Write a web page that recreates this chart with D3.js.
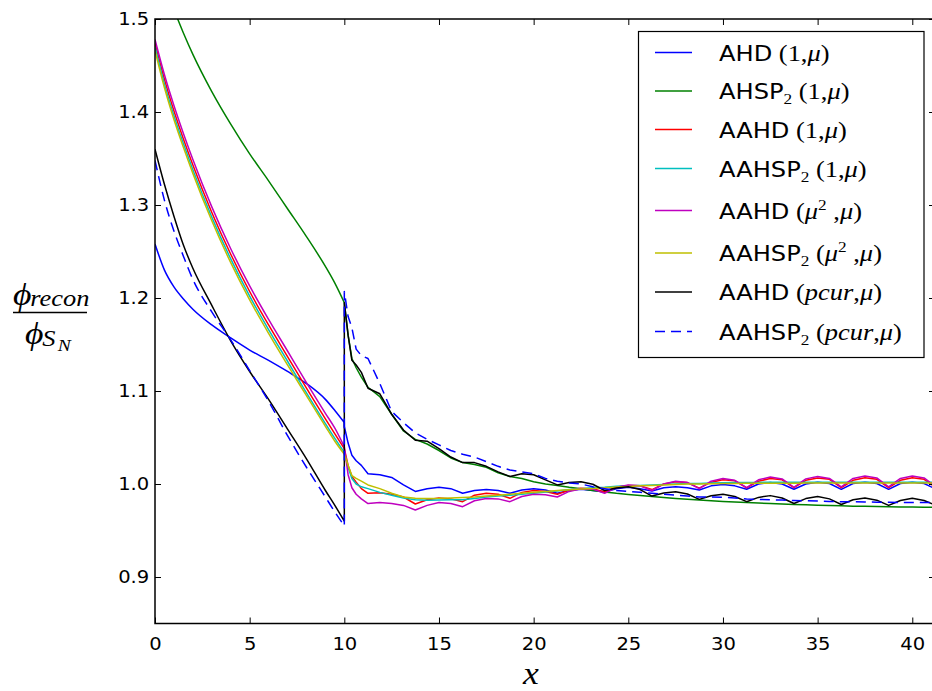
<!DOCTYPE html>
<html>
<head>
<meta charset="utf-8">
<script src="https://cdn.jsdelivr.net/npm/d3@7/dist/d3.min.js"></script>
<style>
  body { margin: 0; background: #fff; }
  svg { display: block; }
</style>
</head>
<body>
<svg width="932" height="691"></svg>
<script>
// x grids: before the interface at x = 10, and after it
const xPre = [0, 0.5, 1, 1.5, 2, 3, 4, 5, 6, 7, 8, 9, 9.5, 10];
const xPost = [10, 10.2, 10.4, 10.625, 10.9, 11.25, 11.875, 12.5, 13.125, 13.75, 14.375, 15,
  15.625, 16.25, 16.875, 17.5, 18.125, 18.75, 19.375, 20, 20.625, 21.25, 21.875, 22.5,
  23.125, 23.75, 24.375, 25, 25.625, 26.25, 26.875, 27.5, 28.125, 28.75, 29.375, 30,
  30.625, 31.25, 31.875, 32.5, 33.125, 33.75, 34.375, 35, 35.625, 36.25, 36.875, 37.5,
  38.125, 38.75, 39.375, 40, 40.625, 41.25];

const xTicks = [0, 5, 10, 15, 20, 25, 30, 35, 40];
const yTicks = [0.9, 1.0, 1.1, 1.2, 1.3, 1.4, 1.5];

// AHD (1,mu)
const ahdPre = [1.258, 1.230, 1.212, 1.199, 1.188, 1.171, 1.157, 1.144, 1.133, 1.121, 1.108, 1.091, 1.079, 1.066];
const ahdPost = [1.062, 1.044, 1.031, 1.025, 1.020, 1.011, 1.010, 1.007, 0.999, 0.992, 0.995, 0.9965,
  0.995, 0.990, 0.993, 0.994, 0.993, 0.990, 0.9935, 0.995, 0.9935, 0.990, 0.993, 0.9943,
  0.993, 0.9917, 0.995, 0.9964, 0.995, 0.9925, 0.996, 0.997, 0.996, 0.9935, 0.998, 0.9995,
  0.998, 0.9943, 1.000, 1.0015, 1.000, 0.9943, 1.000, 1.002, 1.0005, 0.9943, 1.0005, 1.002,
  1.0005, 0.9943, 1.0005, 1.002, 1.0005, 0.9945];

// AHSP2 (1,mu)
const ahspPre = [1.560, 1.535, 1.510, 1.485, 1.462, 1.422, 1.387, 1.355, 1.326, 1.296, 1.266, 1.234, 1.216, 1.195];
const ahspPost = [1.195, 1.160, 1.135, 1.125, 1.115, 1.104, 1.094, 1.075, 1.057, 1.048, 1.043, 1.036,
  1.028, 1.023, 1.021, 1.018, 1.012, 1.008, 1.006, 1.0025, 1.000, 0.9985, 0.9965, 0.9948,
  0.993, 0.9915, 0.990, 0.9888, 0.9876, 0.9865, 0.9855, 0.9845, 0.9836, 0.9828, 0.982, 0.9813,
  0.9806, 0.980, 0.9795, 0.979, 0.9785, 0.978, 0.9776, 0.9772, 0.9768, 0.9765, 0.9762, 0.976,
  0.9758, 0.9756, 0.9754, 0.9752, 0.975, 0.975];

// AAHD (1,mu)
const aahdPre = [1.474, 1.435, 1.401, 1.371, 1.343, 1.292, 1.247, 1.207, 1.171, 1.137, 1.103, 1.070, 1.054, 1.038];
const aahdPost = [1.038, 1.020, 1.008, 1.002, 0.995, 0.990, 0.9905, 0.989, 0.986, 0.9785, 0.983, 0.985,
  0.984, 0.981, 0.988, 0.990, 0.989, 0.9846, 0.991, 0.993, 0.992, 0.989, 0.9935, 0.9955,
  0.995, 0.9915, 0.9965, 0.9985, 0.998, 0.994, 1.000, 1.0025, 1.0015, 0.9955, 1.002, 1.0045,
  1.0035, 0.9958, 1.003, 1.006, 1.0045, 0.996, 1.004, 1.0065, 1.005, 0.996, 1.004, 1.0068,
  1.005, 0.996, 1.004, 1.0068, 1.005, 0.996];

// AAHSP2 (1,mu)
const aahspPre = [1.470, 1.430, 1.396, 1.366, 1.338, 1.287, 1.242, 1.202, 1.166, 1.132, 1.098, 1.065, 1.049, 1.034];
const aahspPost = [1.034, 1.018, 1.006, 1.000, 0.997, 0.995, 0.991, 0.988, 0.985, 0.983, 0.9825, 0.9828,
  0.983, 0.983, 0.9845, 0.986, 0.987, 0.988, 0.989, 0.990, 0.9915, 0.9925, 0.994, 0.995,
  0.996, 0.9965, 0.9975, 0.998, 0.9985, 0.999, 0.9995, 1.000, 1.0005, 1.0005, 1.001, 1.0013,
  1.0015, 1.0015, 1.0017, 1.002, 1.002, 1.002, 1.002, 1.002, 1.002, 1.002, 1.002, 1.002,
  1.002, 1.002, 1.002, 1.002, 1.002, 1.002];

// AAHD (mu^2,mu)
const aahdMu2Pre = [1.478, 1.440, 1.407, 1.377, 1.349, 1.298, 1.253, 1.213, 1.177, 1.143, 1.109, 1.076, 1.060, 1.040];
const aahdMu2Post = [1.040, 1.010, 0.996, 0.989, 0.984, 0.979, 0.980, 0.979, 0.977, 0.972, 0.977, 0.980,
  0.979, 0.9756, 0.982, 0.9845, 0.984, 0.981, 0.9865, 0.989, 0.9885, 0.986, 0.992, 0.995,
  0.9945, 0.990, 0.9965, 0.999, 0.998, 0.993, 1.000, 1.003, 1.0015, 0.995, 1.003, 1.006,
  1.004, 0.996, 1.0045, 1.0075, 1.0055, 0.9965, 1.0055, 1.008, 1.006, 0.997, 1.006, 1.0085,
  1.0065, 0.997, 1.006, 1.0085, 1.0065, 0.997];

// AAHSP2 (mu^2,mu)
const aahspMu2Pre = [1.466, 1.426, 1.392, 1.362, 1.334, 1.283, 1.238, 1.198, 1.162, 1.128, 1.095, 1.062, 1.046, 1.032];
const aahspMu2Post = [1.032, 1.020, 1.009, 1.006, 1.003, 0.999, 0.995, 0.990, 0.986, 0.9848, 0.9845, 0.9846,
  0.985, 0.9855, 0.986, 0.987, 0.988, 0.989, 0.990, 0.991, 0.992, 0.993, 0.9937, 0.9945,
  0.9952, 0.996, 0.9967, 0.9973, 0.998, 0.9985, 0.999, 0.9995, 1.000, 1.000, 1.0003, 1.0005,
  1.0006, 1.0007, 1.0008, 1.0008, 1.0009, 1.0009, 1.001, 1.001, 1.001, 1.001, 1.001, 1.001,
  1.001, 1.001, 1.001, 1.001, 1.001, 1.001];

// AAHD (pcur,mu)
const aahdPcurPre = [1.360, 1.322, 1.288, 1.257, 1.232, 1.192, 1.154, 1.121, 1.091, 1.059, 1.027, 0.993, 0.977, 0.960];
const aahdPcurPost = [1.195, 1.160, 1.133, 1.128, 1.120, 1.103, 1.097, 1.075, 1.058, 1.047, 1.046, 1.038,
  1.029, 1.023, 1.023, 1.019, 1.013, 1.008, 1.011, 1.010, 1.0045, 0.999, 1.0015, 1.0025,
  0.9997, 0.993, 0.9958, 0.997, 0.994, 0.987, 0.9903, 0.9917, 0.9892, 0.9835, 0.9874, 0.989,
  0.9866, 0.981, 0.9856, 0.9875, 0.985, 0.979, 0.9843, 0.9865, 0.984, 0.978, 0.983, 0.985,
  0.9826, 0.977, 0.9823, 0.9846, 0.9823, 0.977];

// AAHSP2 (pcur,mu)
const aahspPcurPre = [1.348, 1.305, 1.272, 1.245, 1.220, 1.185, 1.155, 1.122, 1.089, 1.052, 1.018, 0.986, 0.970, 0.955];
const aahspPcurPost = [1.207, 1.180, 1.168, 1.145, 1.138, 1.135, 1.108, 1.078, 1.066, 1.055, 1.048, 1.042,
  1.036, 1.032, 1.029, 1.024, 1.019, 1.015, 1.013, 1.011, 1.006, 1.003, 1.001, 1.000,
  0.997, 0.995, 0.993, 0.992, 0.991, 0.990, 0.989, 0.988, 0.987, 0.986, 0.986, 0.9857,
  0.985, 0.984, 0.9835, 0.983, 0.9827, 0.9823, 0.982, 0.9817, 0.9813, 0.981, 0.981, 0.9807,
  0.9805, 0.9803, 0.980, 0.980, 0.980, 0.980];

// legend labels: [text, style] pieces; s = sans, m = math upright, i = math italic, sub/sup
const legendLabels = [
  [['AHD', 's'], [' (1,', 'm'], ['μ', 'i'], [')', 'm']],
  [['AHSP', 's'], ['2', 'sub'], [' (1,', 'm'], ['μ', 'i'], [')', 'm']],
  [['AAHD', 's'], [' (1,', 'm'], ['μ', 'i'], [')', 'm']],
  [['AAHSP', 's'], ['2', 'sub'], [' (1,', 'm'], ['μ', 'i'], [')', 'm']],
  [['AAHD', 's'], [' (', 'm'], ['μ', 'i'], ['2', 'sup'], [' ,', 'm'], ['μ', 'i'], [')', 'm']],
  [['AAHSP', 's'], ['2', 'sub'], [' (', 'm'], ['μ', 'i'], ['2', 'sup'], [' ,', 'm'], ['μ', 'i'], [')', 'm']],
  [['AAHD', 's'], [' (', 'm'], ['pcur', 'i'], [',', 'm'], ['μ', 'i'], [')', 'm']],
  [['AAHSP', 's'], ['2', 'sub'], [' (', 'm'], ['pcur', 'i'], [',', 'm'], ['μ', 'i'], [')', 'm']]
];

const series = [
  {pre: ahdPre, post: ahdPost, color: '#0000ff', dash: null},
  {pre: ahspPre, post: ahspPost, color: '#008000', dash: null},
  {pre: aahdPre, post: aahdPost, color: '#ff0000', dash: null},
  {pre: aahspPre, post: aahspPost, color: '#00bfbf', dash: null},
  {pre: aahdMu2Pre, post: aahdMu2Post, color: '#bf00bf', dash: null},
  {pre: aahspMu2Pre, post: aahspMu2Post, color: '#bfbf00', dash: null},
  {pre: aahdPcurPre, post: aahdPcurPost, color: '#000000', dash: null},
  {pre: aahspPcurPre, post: aahspPcurPost, color: '#0000ff', dash: '10,6'}
];

const SANS = '"DejaVu Sans", sans-serif';
const SERIF = '"Liberation Serif", "DejaVu Serif", serif';
const STRETCH = 'scale(1.15,1)';

const plotLeft = 155, plotTop = 19, plotRight = 935, plotBottom = 623.5;
const x = d3.scaleLinear().domain([0, 41.2]).range([plotLeft, plotRight]);
const y = d3.scaleLinear().domain([0.85, 1.5]).range([plotBottom, plotTop]);

const svg = d3.select('svg');

svg.append('clipPath').attr('id', 'plot')
  .append('rect').attr('x', plotLeft).attr('y', plotTop)
  .attr('width', plotRight - plotLeft).attr('height', plotBottom - plotTop);

// smooth part before x = 10, straight segments (jump, cusps) after it
const smooth = d3.line().x(d => x(d[0])).y(d => y(d[1])).curve(d3.curveMonotoneX);
const straight = d3.line().x(d => x(d[0])).y(d => y(d[1]));
const curves = svg.append('g').attr('clip-path', 'url(#plot)');
series.forEach(s => {
  const pre = xPre.map((v, i) => [v, s.pre[i]]);
  const post = [pre[pre.length - 1]].concat(xPost.map((v, i) => [v, s.post[i]]));
  const d = smooth(pre) + straight(post).replace(/^M/, 'L');
  curves.append('path')
    .attr('d', d)
    .attr('fill', 'none')
    .attr('stroke', s.color)
    .attr('stroke-width', 1.5)
    .attr('stroke-dasharray', s.dash)
    .attr('stroke-linejoin', 'round');
});

// axes with inward ticks on all four sides
function styleAxis(g) {
  g.select('.domain').remove();
  g.selectAll('.tick line').attr('stroke', '#000').attr('stroke-width', 1);
  g.selectAll('.tick text').attr('fill', '#000')
    .attr('font-family', SANS).attr('font-size', 17).attr('transform', STRETCH);
}
svg.append('g').attr('transform', `translate(0,${plotBottom})`)
  .call(d3.axisBottom(x).tickValues(xTicks).tickSize(-6).tickPadding(14).tickFormat(d3.format('d')))
  .call(styleAxis);
svg.append('g').attr('transform', `translate(0,${plotTop})`)
  .call(d3.axisTop(x).tickValues(xTicks).tickSize(-6).tickFormat(''))
  .call(styleAxis);
svg.append('g').attr('transform', `translate(${plotLeft},0)`)
  .call(d3.axisLeft(y).tickValues(yTicks).tickSize(-6).tickPadding(5).tickFormat(d3.format('.1f')))
  .call(styleAxis);
svg.append('g').attr('transform', `translate(${plotRight},0)`)
  .call(d3.axisRight(y).tickValues(yTicks).tickSize(-6).tickFormat(''))
  .call(styleAxis);

svg.append('rect')
  .attr('x', plotLeft).attr('y', plotTop)
  .attr('width', plotRight - plotLeft).attr('height', plotBottom - plotTop)
  .attr('fill', 'none').attr('stroke', '#000').attr('stroke-width', 1.5);

// legend
const legend = svg.append('g');
legend.append('rect')
  .attr('x', 638.5).attr('y', 31.5).attr('width', 285.5).attr('height', 326)
  .attr('fill', '#fff').attr('stroke', '#000').attr('stroke-width', 1.2);
const rowY = [52.5, 91, 129.5, 168.5, 210.5, 253, 292, 331.5];
series.forEach((s, i) => {
  legend.append('line')
    .attr('x1', 655).attr('x2', 692).attr('y1', rowY[i]).attr('y2', rowY[i])
    .attr('stroke', s.color).attr('stroke-width', 1.5).attr('stroke-dasharray', s.dash);
  const t = legend.append('text')
    .attr('transform', `translate(719,${rowY[i] + 8}) ${STRETCH}`)
    .attr('font-size', 21);
  let shift = 0;
  legendLabels[i].forEach(([txt, st]) => {
    const ts = t.append('tspan').text(txt);
    if (st === 's') ts.attr('font-family', SANS);
    else ts.attr('font-family', SERIF).attr('font-size', 23);
    if (st === 'i') ts.attr('font-style', 'italic');
    let dy = 0;
    if (st === 'sub') { ts.attr('font-size', 15); dy = 5; }
    if (st === 'sup') { ts.attr('font-size', 15); dy = -9; }
    // dy is relative, so undo the previous shift first
    if (dy - shift !== 0) ts.attr('dy', dy - shift);
    shift = dy;
  });
});

// y label: phi_recon / phi_{S_N}
const yl = svg.append('g').attr('font-family', SERIF).attr('font-style', 'italic');
const num = yl.append('text').attr('transform', `translate(13,305) ${STRETCH}`);
num.append('tspan').attr('font-size', 31).text('ϕ');
num.append('tspan').attr('font-size', 23).attr('dx', -1).attr('dy', 1).text('recon');
yl.append('line').attr('x1', 13).attr('x2', 87).attr('y1', 312.5).attr('y2', 312.5)
  .attr('stroke', '#000').attr('stroke-width', 1.3);
const den = yl.append('text').attr('transform', `translate(25,344) ${STRETCH}`);
den.append('tspan').attr('font-size', 31).text('ϕ');
den.append('tspan').attr('font-size', 23).attr('dx', -1).attr('dy', 2).text('S');
den.append('tspan').attr('font-size', 17).attr('dx', 2).attr('dy', 5).text('N');

// x label
svg.append('text')
  .attr('transform', `translate(531,684) ${STRETCH}`)
  .attr('text-anchor', 'middle')
  .attr('font-family', SERIF).attr('font-style', 'italic').attr('font-size', 31)
  .text('x');
</script>
</body>
</html>
